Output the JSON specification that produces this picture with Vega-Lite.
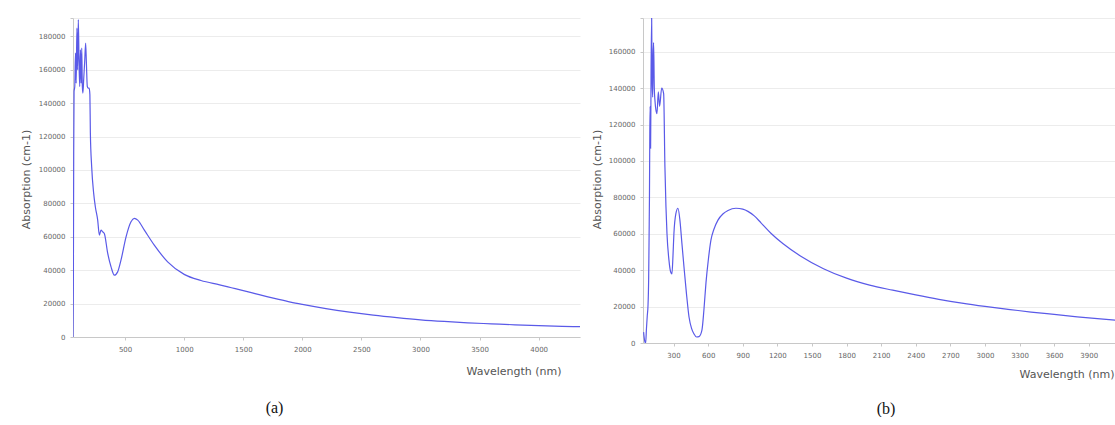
{
  "$schema": "https://vega.github.io/schema/vega-lite/v6.json",
  "padding": {"left": 20, "top": 17, "right": 0, "bottom": 0},
  "background": "white",
  "bounds": "flush",
  "spacing": 63,
  "config": {
    "view": {"stroke": null},
    "axis": {
      "domainColor": "#c8c8c8",
      "gridColor": "#ececec",
      "tickColor": "#c8c8c8",
      "tickSize": 3,
      "labelColor": "#666666",
      "labelFont": "DejaVu Sans",
      "labelFontSize": 7,
      "labelPadding": 5,
      "titleFont": "DejaVu Sans",
      "titleFontSize": 11,
      "titleFontWeight": "normal",
      "titleColor": "#555555"
    },
    "axisX": {"grid": false},
    "axisY": {"grid": true}
  },
  "datasets": {
    "a": [
      {"wavelength": 59, "absorption": 0},
      {"wavelength": 62, "absorption": 30000},
      {"wavelength": 65, "absorption": 110000},
      {"wavelength": 68, "absorption": 147000},
      {"wavelength": 74, "absorption": 150000},
      {"wavelength": 80, "absorption": 170000},
      {"wavelength": 86, "absorption": 152000},
      {"wavelength": 92, "absorption": 185000},
      {"wavelength": 98, "absorption": 160000},
      {"wavelength": 104, "absorption": 190000},
      {"wavelength": 110, "absorption": 165000},
      {"wavelength": 116, "absorption": 150000},
      {"wavelength": 122, "absorption": 172000},
      {"wavelength": 128, "absorption": 152000},
      {"wavelength": 133, "absorption": 173000},
      {"wavelength": 138, "absorption": 150000},
      {"wavelength": 143, "absorption": 146000},
      {"wavelength": 150, "absorption": 155000},
      {"wavelength": 158, "absorption": 165000},
      {"wavelength": 166, "absorption": 176000},
      {"wavelength": 172, "absorption": 165000},
      {"wavelength": 180, "absorption": 150000},
      {"wavelength": 188, "absorption": 149000},
      {"wavelength": 196, "absorption": 149000},
      {"wavelength": 202, "absorption": 145000},
      {"wavelength": 206, "absorption": 122000},
      {"wavelength": 217, "absorption": 102000},
      {"wavelength": 234, "absorption": 86000},
      {"wavelength": 248, "absorption": 78000},
      {"wavelength": 268, "absorption": 70000},
      {"wavelength": 282, "absorption": 61000},
      {"wavelength": 296, "absorption": 64000},
      {"wavelength": 310, "absorption": 63000},
      {"wavelength": 324, "absorption": 62000},
      {"wavelength": 353, "absorption": 50000},
      {"wavelength": 381, "absorption": 42000},
      {"wavelength": 409, "absorption": 37000},
      {"wavelength": 437, "absorption": 39000},
      {"wavelength": 465, "absorption": 46000},
      {"wavelength": 508, "absorption": 60000},
      {"wavelength": 550, "absorption": 69000},
      {"wavelength": 578, "absorption": 71000},
      {"wavelength": 607, "absorption": 70000},
      {"wavelength": 663, "absorption": 64000},
      {"wavelength": 747, "absorption": 55000},
      {"wavelength": 860, "absorption": 45000},
      {"wavelength": 1000, "absorption": 37500},
      {"wavelength": 1142, "absorption": 33800},
      {"wavelength": 1300, "absorption": 31200},
      {"wavelength": 1400, "absorption": 29500},
      {"wavelength": 1500, "absorption": 27800},
      {"wavelength": 1600, "absorption": 26000},
      {"wavelength": 1700, "absorption": 24200},
      {"wavelength": 1800, "absorption": 22500},
      {"wavelength": 1900, "absorption": 20900},
      {"wavelength": 2000, "absorption": 19500},
      {"wavelength": 2200, "absorption": 17000},
      {"wavelength": 2400, "absorption": 14900},
      {"wavelength": 2600, "absorption": 13100},
      {"wavelength": 2800, "absorption": 11600},
      {"wavelength": 3000, "absorption": 10300},
      {"wavelength": 3200, "absorption": 9300},
      {"wavelength": 3400, "absorption": 8500},
      {"wavelength": 3600, "absorption": 7900},
      {"wavelength": 3800, "absorption": 7300},
      {"wavelength": 4000, "absorption": 6800},
      {"wavelength": 4200, "absorption": 6400},
      {"wavelength": 4350, "absorption": 6200}
    ],
    "b": [
      {"wavelength": 40, "absorption": 6000},
      {"wavelength": 50, "absorption": 1000},
      {"wavelength": 58, "absorption": 0},
      {"wavelength": 65, "absorption": 8000},
      {"wavelength": 72, "absorption": 15000},
      {"wavelength": 78, "absorption": 20000},
      {"wavelength": 84, "absorption": 35000},
      {"wavelength": 88, "absorption": 60000},
      {"wavelength": 91, "absorption": 80000},
      {"wavelength": 94, "absorption": 115000},
      {"wavelength": 97, "absorption": 130000},
      {"wavelength": 101, "absorption": 107000},
      {"wavelength": 105, "absorption": 150000},
      {"wavelength": 110, "absorption": 179000},
      {"wavelength": 114, "absorption": 145000},
      {"wavelength": 119, "absorption": 135000},
      {"wavelength": 123, "absorption": 158000},
      {"wavelength": 127, "absorption": 165000},
      {"wavelength": 133, "absorption": 140000},
      {"wavelength": 139, "absorption": 133000},
      {"wavelength": 147, "absorption": 128000},
      {"wavelength": 156, "absorption": 126000},
      {"wavelength": 168, "absorption": 138000},
      {"wavelength": 179, "absorption": 130000},
      {"wavelength": 197, "absorption": 140000},
      {"wavelength": 214, "absorption": 137000},
      {"wavelength": 225, "absorption": 97000},
      {"wavelength": 234, "absorption": 75000},
      {"wavelength": 243, "absorption": 60000},
      {"wavelength": 260, "absorption": 45500},
      {"wavelength": 275, "absorption": 39000},
      {"wavelength": 286, "absorption": 38000},
      {"wavelength": 295, "absorption": 48000},
      {"wavelength": 303, "absorption": 60000},
      {"wavelength": 320, "absorption": 71000},
      {"wavelength": 338, "absorption": 74000},
      {"wavelength": 355, "absorption": 67500},
      {"wavelength": 372, "absorption": 55000},
      {"wavelength": 390, "absorption": 42000},
      {"wavelength": 412, "absorption": 27000},
      {"wavelength": 434, "absorption": 14300},
      {"wavelength": 456, "absorption": 8000},
      {"wavelength": 477, "absorption": 5000},
      {"wavelength": 500, "absorption": 3300},
      {"wavelength": 520, "absorption": 3500},
      {"wavelength": 546, "absorption": 7100},
      {"wavelength": 563, "absorption": 18000},
      {"wavelength": 581, "absorption": 33000},
      {"wavelength": 602, "absorption": 46000},
      {"wavelength": 624, "absorption": 56500},
      {"wavelength": 650, "absorption": 62500},
      {"wavelength": 685, "absorption": 67500},
      {"wavelength": 730, "absorption": 71000},
      {"wavelength": 772, "absorption": 72800},
      {"wavelength": 841, "absorption": 74000},
      {"wavelength": 900, "absorption": 73500},
      {"wavelength": 945, "absorption": 72300},
      {"wavelength": 1000, "absorption": 69800},
      {"wavelength": 1058, "absorption": 66000},
      {"wavelength": 1144, "absorption": 60300},
      {"wavelength": 1250, "absorption": 54500},
      {"wavelength": 1400, "absorption": 47800},
      {"wavelength": 1600, "absorption": 40800},
      {"wavelength": 1800, "absorption": 35600},
      {"wavelength": 2000, "absorption": 31800},
      {"wavelength": 2200, "absorption": 29000},
      {"wavelength": 2400, "absorption": 26400},
      {"wavelength": 2600, "absorption": 24000},
      {"wavelength": 2800, "absorption": 21900},
      {"wavelength": 3000, "absorption": 20100},
      {"wavelength": 3200, "absorption": 18500},
      {"wavelength": 3400, "absorption": 17000},
      {"wavelength": 3600, "absorption": 15700},
      {"wavelength": 3800, "absorption": 14400},
      {"wavelength": 4000, "absorption": 13200},
      {"wavelength": 4197, "absorption": 12200}
    ]
  },
  "hconcat": [
    {
      "width": 507,
      "height": 319,
      "data": {"name": "a"},
      "title": {"text": "(a)", "orient": "bottom", "anchor": "middle", "frame": "group", "dx": -52, "offset": 24, "font": "Liberation Serif", "fontSize": 16, "fontWeight": "normal", "color": "#111111"},
      "mark": {"type": "line", "color": "#5a5ae8", "strokeWidth": 1.2, "clip": true, "interpolate": "monotone"},
      "encoding": {
        "x": {
          "field": "wavelength", "type": "quantitative",
          "scale": {"domain": [59, 4350], "nice": false, "zero": false},
          "axis": {"values": [500, 1000, 1500, 2000, 2500, 3000, 3500, 4000], "format": "d", "title": "Wavelength (nm)", "titleX": 488, "titleY": 37, "titleAlign": "right", "titleBaseline": "alphabetic"}
        },
        "y": {
          "field": "absorption", "type": "quantitative",
          "scale": {"domain": [0, 191000], "nice": false},
          "axis": {"values": [0, 20000, 40000, 60000, 80000, 100000, 120000, 140000, 160000, 180000, 191000], "format": "d", "labelExpr": "datum.value > 185000 ? '' : datum.label", "title": "Absorption (cm-1)", "titleX": -47, "titleY": 161, "titleAlign": "center", "titleBaseline": "middle"}
        }
      }
    },
    {
      "width": 480,
      "height": 325,
      "data": {"name": "b"},
      "title": {"text": "(b)", "orient": "bottom", "anchor": "middle", "frame": "group", "dx": 3, "offset": 22, "font": "Liberation Serif", "fontSize": 16, "fontWeight": "normal", "color": "#111111"},
      "mark": {"type": "line", "color": "#5a5ae8", "strokeWidth": 1.2, "clip": true, "interpolate": "monotone"},
      "encoding": {
        "x": {
          "field": "wavelength", "type": "quantitative",
          "scale": {"domain": [35, 4197], "nice": false, "zero": false},
          "axis": {"values": [300, 600, 900, 1200, 1500, 1800, 2100, 2400, 2700, 3000, 3300, 3600, 3900], "format": "d", "title": "Wavelength (nm)", "titleX": 471, "titleY": 34, "titleAlign": "right", "titleBaseline": "alphabetic"}
        },
        "y": {
          "field": "absorption", "type": "quantitative",
          "scale": {"domain": [0, 178500], "nice": false},
          "axis": {"values": [0, 20000, 40000, 60000, 80000, 100000, 120000, 140000, 160000, 178500], "format": "d", "labelExpr": "datum.value > 170000 ? '' : datum.label", "title": "Absorption (cm-1)", "titleX": -46, "titleY": 161, "titleAlign": "center", "titleBaseline": "middle"}
        }
      }
    }
  ]
}
